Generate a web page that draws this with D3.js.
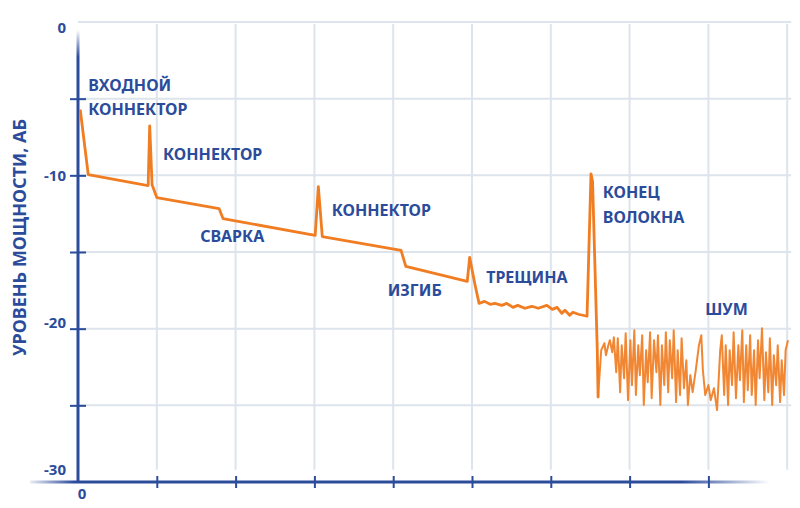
<!DOCTYPE html>
<html><head><meta charset="utf-8">
<script src="https://cdn.jsdelivr.net/npm/d3@7/dist/d3.min.js"></script>
<style>html,body{margin:0;padding:0;background:#fff;}svg{display:block;}</style>
</head><body>
<svg id="c" width="800" height="508"></svg>
<script>
// ---- data ----
const yTickValues = [0, -5, -10, -15, -20, -25, -30];
const yTickLabels = ["0", "-10", "-20", "-30"];
const yLabelValues = [0, -10, -20, -30];
const xTickValues = [0, 1, 2, 3, 4, 5, 6, 7, 8, 9];
const xTickLabels = ["0"];
const yTitle = "УРОВЕНЬ МОЩНОСТИ, АБ";

// main trace: distance (grid units) and level (dB)
const traceKm = [0.03,0.13,0.89,0.91,0.94,1.00,1.79,1.84,3.01,3.05,3.10,4.10,4.16,4.94,4.97,5.04,5.09,
  5.16,5.23,5.29,5.38,5.44,5.52,5.58,5.67,5.76,5.84,5.95,6.02,6.08,6.14,6.18,6.24,6.28,6.35,6.46,
  6.51,6.53,6.59,6.60];
const traceDb = [-5.79,-9.95,-10.67,-6.77,-10.61,-11.45,-12.17,-12.82,-13.92,-10.74,-13.99,-14.90,-15.94,-16.92,-15.35,-17.18,-18.35,
  -18.22,-18.41,-18.35,-18.48,-18.35,-18.61,-18.48,-18.67,-18.54,-18.67,-18.48,-18.74,-18.61,-19.00,-18.80,-19.13,-18.93,-19.06,-19.19,
  -9.90,-10.40,-21.41,-24.46];

// noise after fibre end
const noiseKm = [6.60,6.64,6.68,6.70,6.73,6.75,6.78,6.80,6.83,6.85,6.88,6.90,6.93,6.95,6.98,7.01,7.03,7.06,7.08,7.11,7.13,
  7.16,7.18,7.21,7.23,7.26,7.28,7.31,7.34,7.36,7.39,7.41,7.44,7.46,7.49,7.51,7.54,7.56,7.59,7.61,7.64,
  7.66,7.69,7.72,7.74,7.77,7.80,7.84,7.88,7.91,7.93,7.96,8.00,8.03,8.07,8.11,8.15,8.17,8.20,8.22,8.25,
  8.27,8.30,8.32,8.35,8.38,8.40,8.43,8.45,8.48,8.50,8.53,8.55,8.58,8.60,8.63,8.65,8.68,8.71,8.73,8.76,
  8.78,8.81,8.83,8.86,8.88,8.91,8.93,8.96,8.98,9.01];
const noiseDb = [-24.46,-21.40,-20.95,-21.73,-21.08,-20.75,-21.54,-20.56,-22.84,-20.62,-24.14,-21.08,-23.23,-20.30,-24.66,-20.75,-23.68,-20.10,-24.33,-21.08,-23.03,
  -20.43,-24.98,-21.40,-23.49,-20.23,-24.53,-20.75,-22.84,-20.43,-24.98,-21.08,-23.68,-20.23,-24.14,-20.75,-23.23,-20.10,-24.79,-21.40,-24.33,
  -20.62,-23.88,-22.06,-24.98,-23.03,-24.14,-22.71,-21.08,-20.43,-22.71,-24.33,-23.68,-24.66,-23.88,-25.31,-21.40,-20.43,-24.33,-21.08,-24.98,
  -21.40,-23.68,-20.23,-24.53,-21.08,-23.36,-20.10,-24.79,-21.08,-24.01,-20.43,-24.33,-21.40,-24.98,-20.75,-23.23,-19.97,-24.66,-21.54,-24.14,
  -20.62,-24.98,-21.73,-23.68,-21.08,-24.79,-22.06,-24.33,-21.40,-20.75];

// annotations: text lines anchored at (distance, dB)
const annoText = ["ВХОДНОЙ","КОННЕКТОР","КОННЕКТОР","СВАРКА","КОННЕКТОР","ИЗГИБ","ТРЕЩИНА","КОНЕЦ","ВОЛОКНА","ШУМ"];
const annoKm   = [0.13,0.13,1.08,1.55,3.22,3.93,5.18,6.66,6.66,7.96];
const annoDb   = [-4.52,-6.05,-9.00,-14.35,-12.65,-17.87,-17.03,-11.50,-13.12,-19.11];

// ---- drawing ----
const svg = d3.select("#c");
const blue = "#2b4b9b", orange = "#f07d22", grid = "#dde4ec";
const font = "'Noto Sans', 'DejaVu Sans', sans-serif";

const x = d3.scaleLinear().domain([0, 9]).range([78, 787.2]);
const y = d3.scaleLinear().domain([0, -30]).range([22, 482]);
const yLab = d3.scaleLinear().domain([0, -30]).range([28, 470]);

const defs = svg.append("defs");
const gx = defs.append("linearGradient").attr("id","gx").attr("x1","0").attr("x2","1").attr("y1","0").attr("y2","0");
gx.append("stop").attr("offset","0").attr("stop-color",blue).attr("stop-opacity",0.1);
gx.append("stop").attr("offset","0.06").attr("stop-color",blue).attr("stop-opacity",1);
gx.append("stop").attr("offset","0.88").attr("stop-color",blue).attr("stop-opacity",1);
gx.append("stop").attr("offset","1").attr("stop-color",blue).attr("stop-opacity",0);
const gy = defs.append("linearGradient").attr("id","gy").attr("x1","0").attr("x2","0").attr("y1","0").attr("y2","1");
gy.append("stop").attr("offset","0").attr("stop-color",blue).attr("stop-opacity",0);
gy.append("stop").attr("offset","0.06").attr("stop-color",blue).attr("stop-opacity",1);
gy.append("stop").attr("offset","1").attr("stop-color",blue).attr("stop-opacity",1);

// grid
const g = svg.append("g");
g.selectAll("line.h").data(yTickValues.filter(v => v > -30)).join("line")
  .attr("x1", x(0)).attr("x2", x(9) + 4).attr("y1", d => y(d)).attr("y2", d => y(d))
  .attr("stroke", grid).attr("stroke-width", 2);
g.selectAll("line.v").data(xTickValues.filter(v => v > 0)).join("line")
  .attr("x1", d => x(d)).attr("x2", d => x(d)).attr("y1", y(0) + 2).attr("y2", y(-29.2))
  .attr("stroke", grid).attr("stroke-width", 2);

// y axis (ticks)
const yAxis = svg.append("g").attr("transform", `translate(${x(0)},0)`)
  .call(d3.axisLeft(y).tickValues(yTickValues.filter(v => v < 0 && v > -30)).tickSize(8).tickSizeOuter(0).tickFormat(""));
yAxis.select(".domain").remove();
yAxis.selectAll(".tick line").attr("x1", -8).attr("x2", 8).attr("stroke", blue).attr("stroke-width", 2);
svg.append("rect").attr("x", x(0) - 1.5).attr("y", 30).attr("width", 3).attr("height", y(-30) - 30)
  .attr("fill", "url(#gy)");

// x axis
const xAxis = svg.append("g").attr("transform", `translate(0,${y(-30)})`)
  .call(d3.axisBottom(x).tickValues(xTickValues.filter(v => v > 0 && v < 9)).tickSize(6).tickSizeOuter(0).tickFormat(""));
xAxis.select(".domain").remove();
xAxis.selectAll(".tick line").attr("y1", -6).attr("y2", 6).attr("stroke", blue).attr("stroke-width", 2);
svg.append("rect").attr("x", 30).attr("y", y(-30) - 1.5).attr("width", 770 - 30).attr("height", 3)
  .attr("fill", "url(#gx)");

// y labels
svg.selectAll("text.yl").data(yLabelValues).join("text")
  .attr("x", x(0) - 12).attr("y", d => yLab(d)).attr("dy", "0.36em")
  .attr("text-anchor", "end").attr("fill", blue)
  .style("font-family", font).style("font-weight", 700).style("font-size", "15px")
  .text((d, i) => yTickLabels[i]);
// x label
svg.selectAll("text.xl").data([0]).join("text")
  .attr("x", x(0) + 4).attr("y", y(-30) + 12).attr("dy", "0.36em")
  .attr("text-anchor", "middle").attr("fill", blue)
  .style("font-family", font).style("font-weight", 700).style("font-size", "15px")
  .text((d, i) => xTickLabels[i]);

// y title
svg.append("text")
  .attr("transform", `translate(26,${y(-14.05)}) rotate(-90)`)
  .attr("text-anchor", "middle").attr("fill", blue)
  .style("font-family", font).style("font-weight", 700).style("font-size", "18px")
  .text(yTitle);

// trace
const line = d3.line().x(d => x(d[0])).y(d => y(d[1])).curve(d3.curveLinear);
svg.append("path").datum(noiseKm.map((k, i) => [k, noiseDb[i]]))
  .attr("d", line).attr("fill", "none").attr("stroke", orange).attr("stroke-width", 2)
  .attr("stroke-linejoin", "round").attr("opacity", 0.92);
svg.append("path").datum(traceKm.map((k, i) => [k, traceDb[i]]))
  .attr("d", line).attr("fill", "none").attr("stroke", orange).attr("stroke-width", 2.8)
  .attr("stroke-linejoin", "round").attr("stroke-linecap", "round");

// annotations
svg.selectAll("text.an").data(annoText).join("text")
  .attr("x", (d, i) => x(annoKm[i])).attr("y", (d, i) => y(annoDb[i]))
  .attr("fill", blue)
  .style("font-family", font).style("font-weight", 700).style("font-size", "16px")
  .text(d => d);
</script>
</body></html>
